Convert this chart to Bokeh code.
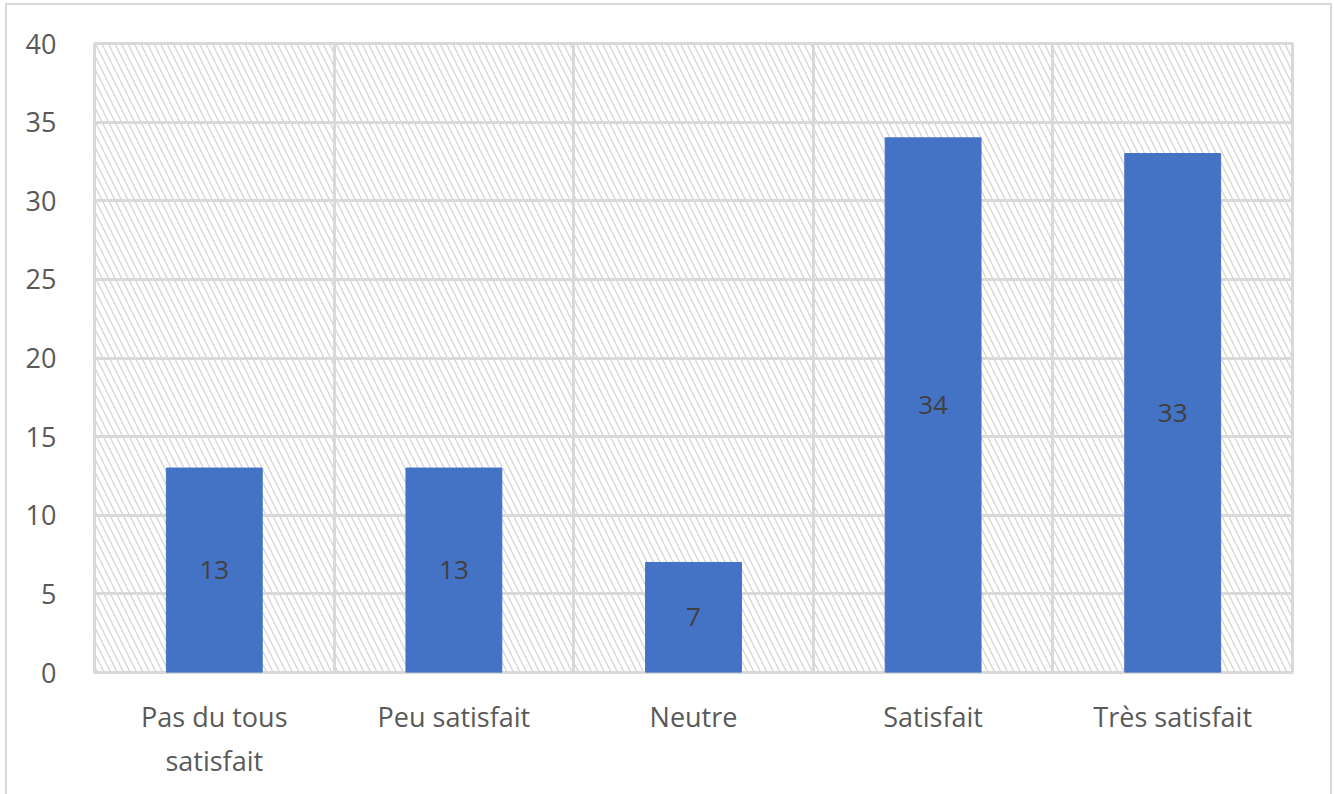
from bokeh.plotting import figure
from bokeh.layouts import column
from bokeh.models import Range1d, FixedTicker, BoxAnnotation, ColumnDataSource, LabelSet
from bokeh.core.properties import value
from bokeh.embed import file_html
from bokeh.resources import INLINE

categories = ["Pas du tous\nsatisfait", "Peu satisfait", "Neutre", "Satisfait", "Très satisfait"]
values = [13, 13, 7, 34, 33]
y_ticks = [0, 5, 10, 15, 20, 25, 30, 35, 40]

xpos = [i + 0.5 for i in range(len(categories))]
src = ColumnDataSource(dict(x=xpos, top=values, mid=[v / 2 for v in values],
                            lab=[str(v) for v in values]))

FONT = "Open Sans"
GRID = "#d9d9d9"

p = figure(width=1323, height=789, output_backend="svg", toolbar_location=None,
           x_range=Range1d(0, len(categories)), y_range=Range1d(0, 40),
           min_border_left=87, min_border_right=38, min_border_top=38, min_border_bottom=122)

p.background_fill_color = "white"
p.border_fill_color = "white"
p.outline_line_color = GRID
p.outline_line_width = 3

# hatched plot area
hatch = BoxAnnotation(fill_alpha=0, line_alpha=0, hatch_pattern="\\", hatch_color="#d6d6d6",
                      hatch_scale=13, hatch_weight=1.4, level="image")
p.add_layout(hatch)

p.vbar(x="x", top="top", width=0.4, source=src, color="#4472C4")
p.add_layout(LabelSet(x="x", y="mid", text="lab", source=src, text_align="center",
                      text_baseline="middle", text_font=value(FONT),
                      text_font_size=value("26px"), text_color="#404040"))

p.xgrid.ticker = FixedTicker(ticks=list(range(len(categories) + 1)))
p.ygrid.ticker = FixedTicker(ticks=y_ticks)
for g in (p.xgrid, p.ygrid):
    g.grid_line_color = GRID
    g.grid_line_width = 3

p.xaxis.ticker = FixedTicker(ticks=xpos)
p.xaxis.major_label_overrides = {x: c for x, c in zip(xpos, categories)}
p.yaxis.ticker = FixedTicker(ticks=y_ticks)

for ax in (p.xaxis, p.yaxis):
    ax.axis_line_color = None
    ax.major_tick_line_color = None
    ax.minor_tick_line_color = None
    ax.major_label_text_font = FONT
    ax.major_label_text_font_size = "27px"
    ax.major_label_text_color = "#595959"
p.xaxis.major_label_standoff = 19
p.yaxis.major_label_standoff = 32

layout = column(p, styles={"border-left": "2px solid #d9d9d9", "border-top": "2px solid #d9d9d9",
                           "border-right": "2px solid #d9d9d9", "margin-left": "5px",
                           "margin-top": "3px"})

open("out.html", "w").write(file_html(layout, INLINE))
